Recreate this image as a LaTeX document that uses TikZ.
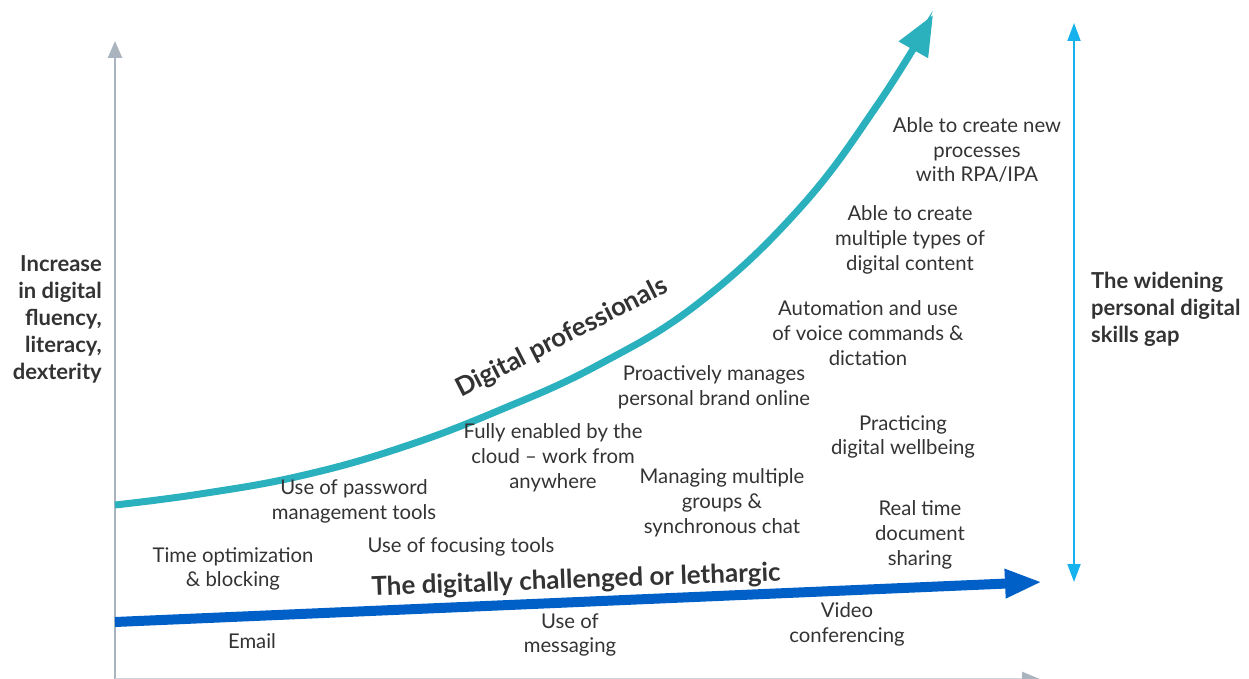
\documentclass[tikz,border=0pt]{standalone}
\usepackage{fontspec}
\setmainfont{Lato}
\usetikzlibrary{arrows.meta}

\definecolor{axisgray}{HTML}{A9B4BE}
\definecolor{proteal}{HTML}{2BB0BD}
\definecolor{lowblue}{HTML}{0060C8}
\definecolor{gapcyan}{HTML}{16B2EE}
\definecolor{ink}{HTML}{333333}

\tikzset{
  skill/.style={align=center, text=ink, inner sep=0pt, font=\fontsize{20.3}{24.8}\selectfont},
  heading/.style={text=ink, inner sep=0pt, font=\bfseries\fontsize{22}{27}\selectfont},
  curvelabel/.style={text=ink, inner sep=0pt, font=\bfseries\fontsize{26}{30}\selectfont},
}

\begin{document}
\begin{tikzpicture}[x=1pt,y=-1pt]
\useasboundingbox (0,0) rectangle (1249,679);

% axes
\coordinate (origin) at (115,679);
\coordinate (ytop) at (115,41);
\coordinate (xend) at (1040,679);
\draw[axisgray, line width=2.5pt, -{Triangle[length=17pt,width=14pt]}] (origin) -- (ytop);
\draw[axisgray!55, line width=2.5pt, -{Triangle[length=18pt,width=14pt,color=axisgray]}] (origin) -- (xend);

% the widening gap
\coordinate (gaptop) at (1074,23);
\coordinate (gapbot) at (1074,582);
\draw[gapcyan, line width=2pt, {Triangle[length=18pt,width=13pt]}-{Triangle[length=18pt,width=13pt]}] (gaptop) -- (gapbot);

% digital professionals curve
\draw[proteal, line width=7pt, -{Triangle[length=40pt,width=32pt]}]
    plot[smooth, tension=0.7] coordinates {(115,505) (200,494) (300,476) (400,448) (500,410) (600,364) (700,302) (800,208) (878,104) (933,15)};

% digitally challenged line
\coordinate (lowstart) at (115,622);
\coordinate (lowend) at (1042,582);
\draw[lowblue, line width=10pt, -{Triangle[length=37pt,width=27pt]}] (lowstart) -- (lowend);

% headings
\node[heading, align=right, anchor=east] (yaxis) at (102,319) {Increase\\in digital\\fluency,\\literacy,\\dexterity};
\node[heading, align=left, anchor=west] (gap) at (1091,309) {The widening\\personal digital\\skills gap};
\node[curvelabel, rotate=27] (protext) at (562,338) {Digital professionals};
\node[curvelabel, rotate=2.1] (lowtext) at (576,581) {The digitally challenged or lethargic};

% skills
\node[skill] (rpa) at (977,150) {Able to create new\\processes\\with RPA/IPA};
\node[skill] (content) at (910,240) {Able to create\\multiple types of\\digital content};
\node[skill] (voice) at (868,333) {Automation and use\\of voice commands \&\\dictation};
\node[skill] (brand) at (714,387) {Proactively manages\\personal brand online};
\node[skill] (wellbeing) at (903,437) {Practicing\\digital wellbeing};
\node[skill] (cloud) at (553,458) {Fully enabled by the\\cloud -- work from\\anywhere};
\node[skill] (groups) at (722,503) {Managing multiple\\groups \&\\synchronous chat};
\node[skill] (sharing) at (920,535) {Real time\\document\\sharing};
\node[skill] (password) at (354,501) {Use of password\\management tools};
\node[skill] (focus) at (461,547) {Use of focusing tools};
\node[skill] (blocking) at (233,569) {Time optimization\\\& blocking};
\node[skill] (video) at (847,624) {Video\\conferencing};
\node[skill] (messaging) at (570,635) {Use of\\messaging};
\node[skill] (email) at (252,641) {Email};

\end{tikzpicture}
\end{document}
